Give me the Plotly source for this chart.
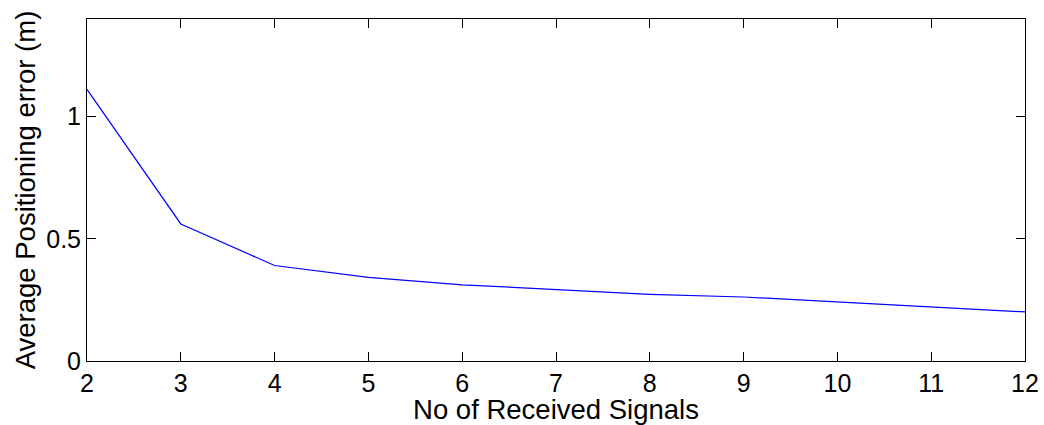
import plotly.graph_objects as go

signals = [2, 3, 4, 5, 6, 7, 8, 9, 10, 11, 12]
avg_error = [1.112, 0.561, 0.391, 0.342, 0.312, 0.291, 0.273, 0.262, 0.242, 0.222, 0.201]
x_ticks = [2, 3, 4, 5, 6, 7, 8, 9, 10, 11, 12]
y_ticks = [0, 0.5, 1]
y_tick_text = ["0", "0.5", "1"]

font_family = "Liberation Sans, Arial, sans-serif"
fsize = 25
tsize = 27.5

fig = go.Figure()
fig.add_trace(go.Scatter(x=signals, y=avg_error, mode="lines",
                         line=dict(color="#0000ff", width=1.2), showlegend=False,
                         hoverinfo="skip"))

axis_common = dict(showgrid=False, zeroline=False, showline=True, linecolor="black",
                   linewidth=1, mirror="ticks", ticks="inside", ticklen=9,
                   tickcolor="black", tickwidth=1, automargin=False,
                   tickfont=dict(family=font_family, size=fsize, color="black"))

fig.update_xaxes(range=[2, 12], tickvals=x_ticks, **axis_common,
                 title=dict(text="No of Received Signals", standoff=0,
                            font=dict(family=font_family, size=tsize, color="black")))
fig.update_yaxes(range=[0, 1.4], tickvals=y_ticks, ticktext=y_tick_text, **axis_common,
                 title=dict(text="Average Positioning error (m)", standoff=2,
                            font=dict(family=font_family, size=tsize, color="black")))

fig.update_layout(width=1044, height=425, margin=dict(l=87, r=19, t=19, b=64),
                  plot_bgcolor="white", paper_bgcolor="white")

fig.write_html("out.html", config={"displayModeBar": False},
               post_script="document.body.style.margin='0';document.body.style.overflow='hidden';")
